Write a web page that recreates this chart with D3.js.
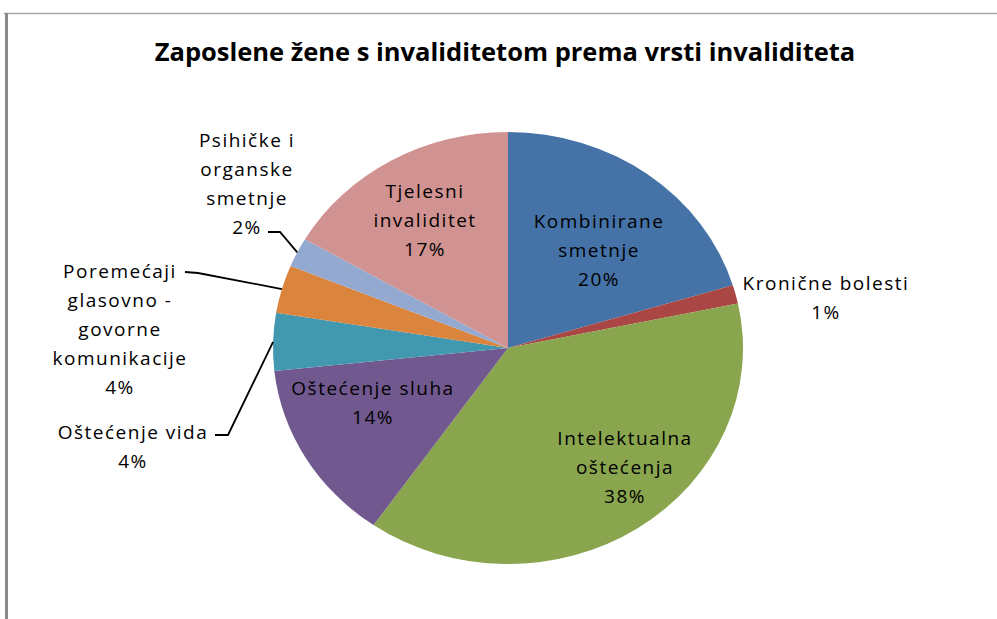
<!DOCTYPE html>
<html>
<head>
<meta charset="utf-8">
<script src="https://cdn.jsdelivr.net/npm/d3@7"></script>
<style>
	body { margin: 0; background: #fff; }
	svg { display: block; }
	.slice-label { font-family: "Open Sans", sans-serif; font-size: 19px; letter-spacing: 1.5px; fill: #000; }
	.title { font-family: "Open Sans", sans-serif; font-size: 25.5px; font-weight: bold; fill: #000; }
	.leader { fill: none; stroke: #000; stroke-width: 1.8px; }
</style>
</head>
<body>
<div id="chart"></div>
<script>
// Data
const categories = [
	"Kombinirane smetnje",
	"Kronične bolesti",
	"Intelektualna oštećenja",
	"Oštećenje sluha",
	"Oštećenje vida",
	"Poremećaji glasovno - govorne komunikacije",
	"Psihičke i organske smetnje",
	"Tjelesni invaliditet"
];
const values = [20.3, 1.4, 38.0, 13.6, 4.3, 3.6, 2.2, 16.6];
const labelLines = [
	["Kombinirane", "smetnje"],
	["Kronične bolesti"],
	["Intelektualna", "oštećenja"],
	["Oštećenje sluha"],
	["Oštećenje vida"],
	["Poremećaji", "glasovno -", "govorne", "komunikacije"],
	["Psihičke i", "organske", "smetnje"],
	["Tjelesni", "invaliditet"]
];
const colors = ["#4572A7", "#AA4643", "#89A54E", "#71588F", "#4198AF", "#DB843D", "#93A9CF", "#D19392"];

(function() {
	const width = 997, height = 619;
	const cx = 508, cy = 348,
				ry = 216, rx = 235;
	const lineGap = 29;

	// label placement (x centre, y of first line), leader start points for outside labels
	const layout = [
		{x: 599, y: 221},
		{x: 826, y: 283},
		{x: 625, y: 438},
		{x: 373, y: 388},
		{x: 133, y: 432, leader: [[215, 435], [228, 435]]},
		{x: 120, y: 271, leader: [[185, 272], [198, 273]]},
		{x: 247, y: 140, leader: [[268, 232], [280, 232]]},
		{x: 425, y: 191}
	];

	const data = categories.map((c, i) => ({name: c, value: values[i], lines: labelLines[i], color: colors[i], pos: layout[i]}));
	const total = d3.sum(values);
	const fmt = d => Math.round(d / total * 100) + "%";

	const svg = d3.select("#chart").append("svg")
		.attr("width", width)
		.attr("height", height);

	// Frame
	svg.append("line")
		.attr("x1", 4).attr("x2", width)
		.attr("y1", 13.5).attr("y2", 13.5)
		.attr("stroke", "#a8a8a8").attr("stroke-width", 1.5);
	svg.append("rect")
		.attr("x", 5).attr("y", 13)
		.attr("width", 3).attr("height", height - 13)
		.attr("fill", "#8a8a8a");

	// Title
	svg.append("text")
		.attr("class", "title")
		.attr("x", 505)
		.attr("y", 61)
		.attr("text-anchor", "middle")
		.text("Zaposlene žene s invaliditetom prema vrsti invaliditeta");

	// Pie
	const pie = d3.pie().sort(null).value(d => d.value);
	const arcs = pie(data);
	const arc = d3.arc().innerRadius(0).outerRadius(ry);

	svg.append("g")
		.attr("transform", `translate(${cx}, ${cy}) scale(${rx / ry}, 1)`)
		.selectAll("path")
		.data(arcs)
		.enter()
		.append("path")
			.attr("d", arc)
			.attr("fill", d => d.data.color);

	// Leader lines
	svg.append("g")
		.selectAll("path")
		.data(arcs.filter(d => d.data.pos.leader))
		.enter()
		.append("path")
			.attr("class", "leader")
			.attr("d", d => {
				const a = (d.startAngle + d.endAngle) / 2;
				const end = [cx + rx * Math.sin(a), cy - ry * Math.cos(a)];
				return d3.line()(d.data.pos.leader.concat([end]));
			});

	// Labels
	const labels = svg.append("g")
		.selectAll("text")
		.data(arcs)
		.enter()
		.append("text")
			.attr("class", "slice-label")
			.attr("text-anchor", "middle");

	labels.selectAll("tspan")
		.data(d => d.data.lines.concat([fmt(d.data.value)]).map((t, i) => ({t, i, pos: d.data.pos})))
		.enter()
		.append("tspan")
			.attr("x", d => d.pos.x)
			.attr("y", d => d.pos.y + d.i * lineGap)
			.attr("dy", "0.35em")
			.text(d => d.t);
})();
</script>
</body>
</html>
